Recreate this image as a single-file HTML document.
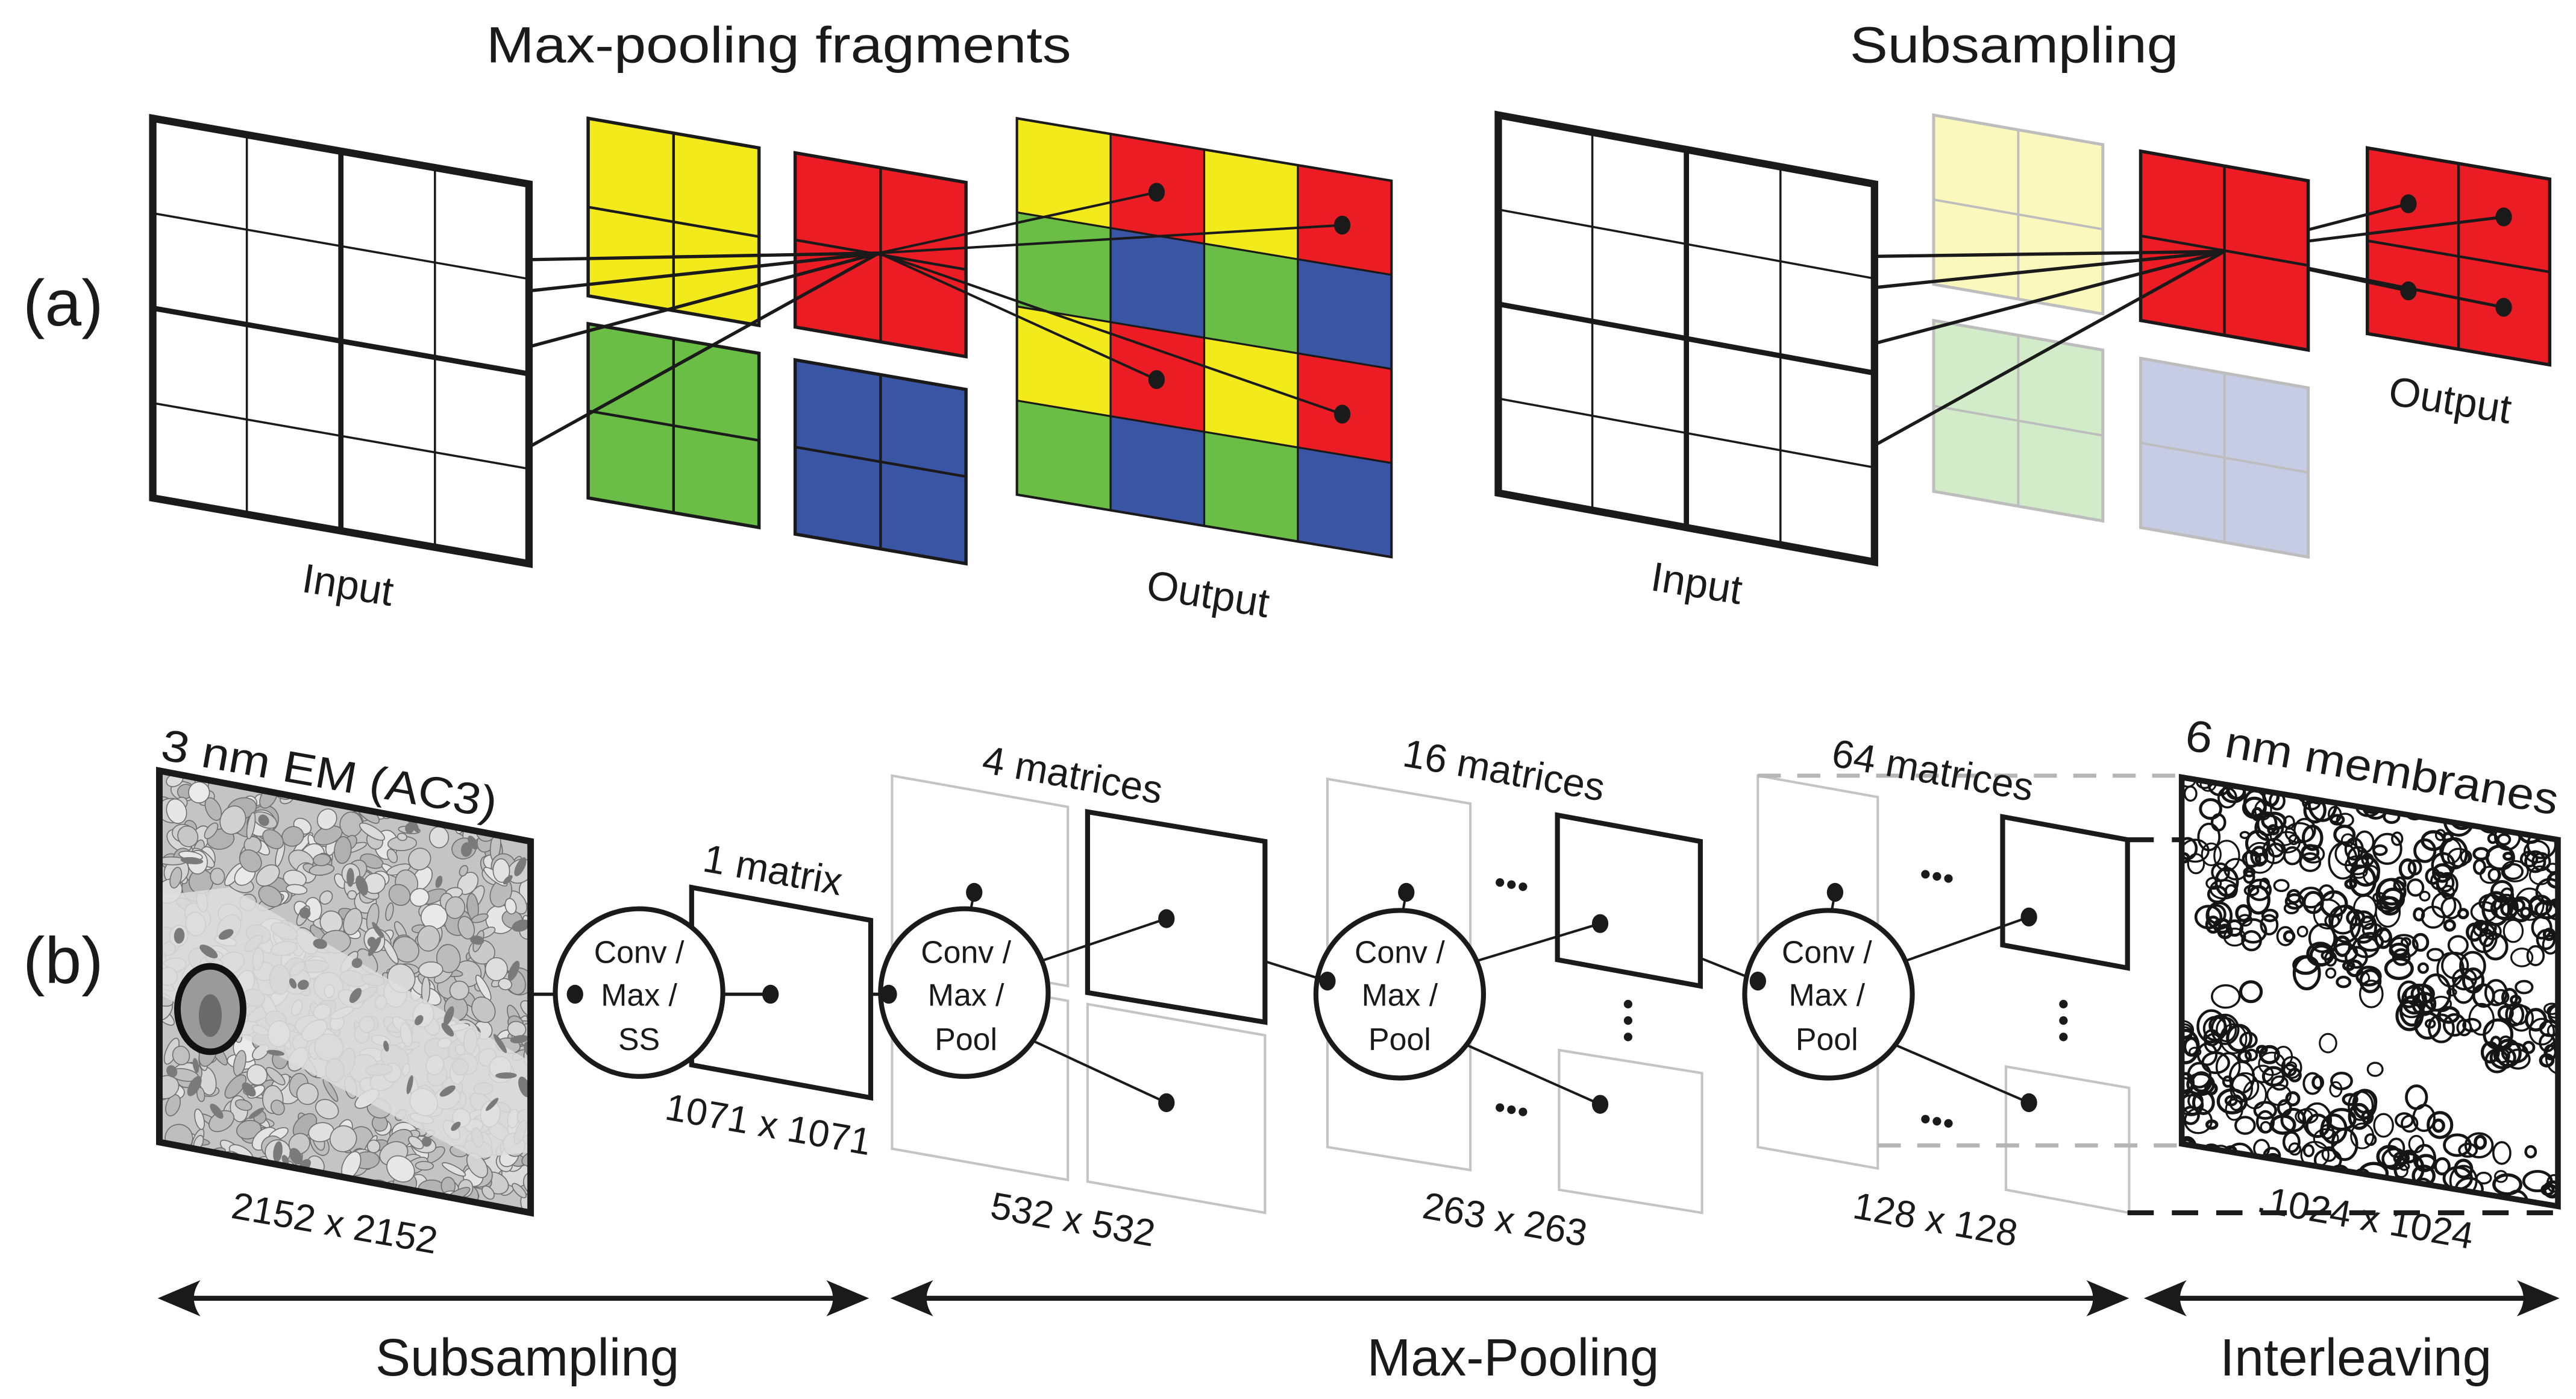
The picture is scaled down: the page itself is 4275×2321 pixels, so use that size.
<!DOCTYPE html>
<html><head><meta charset="utf-8">
<style>
html,body{margin:0;padding:0;background:#fff;}
svg{display:block;}
text{font-family:"Liberation Sans",sans-serif;fill:#1a1a1a;}
</style></head>
<body>
<svg id="s" xmlns="http://www.w3.org/2000/svg" width="4275" height="2321" viewBox="0 0 1568 851.3">
<defs>
<clipPath id="emclip"><polygon points="97,469 323,512 323,738 97,695"/></clipPath>
<clipPath id="memclip"><polygon points="1328,473 1557,511 1557,734 1328,696"/></clipPath>
</defs>
<rect x="0" y="0" width="1568" height="852" fill="#fff"/>
<g id="g"></g>
<g id="txt">
<text x="474" y="38" font-size="31" text-anchor="middle" textLength="356" lengthAdjust="spacingAndGlyphs">Max-pooling fragments</text>
<text x="1226" y="38" font-size="31" text-anchor="middle" textLength="200" lengthAdjust="spacingAndGlyphs">Subsampling</text>
<text x="14" y="198" font-size="40">(a)</text>
<text x="14" y="598" font-size="40">(b)</text>
<text x="183" y="360" font-size="25" transform="rotate(9 183 360)">Input</text>
<text x="697" y="364" font-size="25" transform="rotate(9 697 364)">Output</text>
<text x="1004" y="359" font-size="25" transform="rotate(9 1004 359)">Input</text>
<text x="1453" y="246" font-size="25" transform="rotate(9 1453 246)">Output</text>

<text x="97" y="462" font-size="27" transform="rotate(10 97 462)" textLength="207" lengthAdjust="spacingAndGlyphs">3 nm EM (AC3)</text>
<text x="427" y="530" font-size="24" transform="rotate(10 427 530)">1 matrix</text>
<text x="597" y="470" font-size="24" transform="rotate(10 597 470)">4 matrices</text>
<text x="853" y="466" font-size="24" transform="rotate(10 853 466)">16 matrices</text>
<text x="1114" y="466" font-size="24" transform="rotate(10 1114 466)">64 matrices</text>
<text x="1329" y="456" font-size="27" transform="rotate(10 1329 456)" textLength="230" lengthAdjust="spacingAndGlyphs">6 nm membranes</text>

<text x="404" y="681" font-size="23" transform="rotate(10 404 681)">1071 x 1071</text>
<text x="140" y="741" font-size="23" transform="rotate(10 140 741)">2152 x 2152</text>
<text x="602" y="741" font-size="23" transform="rotate(10 602 741)">532 x 532</text>
<text x="865" y="741" font-size="23" transform="rotate(10 865 741)">263 x 263</text>
<text x="1127" y="741" font-size="23" transform="rotate(10 1127 741)">128 x 128</text>
<text x="1373" y="737" font-size="23" transform="rotate(10 1373 737)">.1024 x 1024</text>

<g font-size="19" text-anchor="middle">
<text x="389" y="586">Conv /</text><text x="389" y="612">Max /</text><text x="389" y="639">SS</text>
<text x="588" y="586">Conv /</text><text x="588" y="612">Max /</text><text x="588" y="639">Pool</text>
<text x="852" y="586">Conv /</text><text x="852" y="612">Max /</text><text x="852" y="639">Pool</text>
<text x="1112" y="586">Conv /</text><text x="1112" y="612">Max /</text><text x="1112" y="639">Pool</text>
</g>
<text x="321" y="837" font-size="32" text-anchor="middle">Subsampling</text>
<text x="921" y="837" font-size="32" text-anchor="middle">Max-Pooling</text>
<text x="1434" y="837" font-size="32" text-anchor="middle">Interleaving</text>
</g>
</svg>
<script>
(function(){
var NS="http://www.w3.org/2000/svg";
var G=document.getElementById("g");
var TXT=document.getElementById("txt");
function el(name,attrs,parent){var e=document.createElementNS(NS,name);for(var k in attrs)e.setAttribute(k,attrs[k]);(parent||G).appendChild(e);return e;}
function P(x0,y0,w,h,s,u,v){return [x0+u*w,y0+v*h+u*s];}
function poly(pts,attrs,parent){attrs.points=pts.map(function(p){return p[0].toFixed(2)+","+p[1].toFixed(2);}).join(" ");return el("polygon",attrs,parent);}
function line(a,b,st,sw,extra,parent){var at={x1:a[0],y1:a[1],x2:b[0],y2:b[1],stroke:st,"stroke-width":sw};if(extra)for(var k in extra)at[k]=extra[k];return el("line",at,parent);}
function grid(o){
  var n=o.n,x0=o.x,y0=o.y,w=o.w,h=o.h,s=o.s;
  if(o.fills){for(var r=0;r<n;r++)for(var c=0;c<n;c++){
    var f=o.fills[r][c];
    poly([P(x0,y0,w,h,s,c/n,r/n),P(x0,y0,w,h,s,(c+1)/n,r/n),P(x0,y0,w,h,s,(c+1)/n,(r+1)/n),P(x0,y0,w,h,s,c/n,(r+1)/n)],{fill:f,stroke:"none"});
  }} else {
    poly([P(x0,y0,w,h,s,0,0),P(x0,y0,w,h,s,1,0),P(x0,y0,w,h,s,1,1),P(x0,y0,w,h,s,0,1)],{fill:o.bg||"#fff",stroke:"none"});
  }
  for(var i=1;i<n;i++){
    var t=i/n, sw=(o.thick&&i==n/2)?o.tsw:o.isw;
    line(P(x0,y0,w,h,s,t,0),P(x0,y0,w,h,s,t,1),o.stroke,sw);
    line(P(x0,y0,w,h,s,0,t),P(x0,y0,w,h,s,1,t),o.stroke,sw);
  }
  poly([P(x0,y0,w,h,s,0,0),P(x0,y0,w,h,s,1,0),P(x0,y0,w,h,s,1,1),P(x0,y0,w,h,s,0,1)],{fill:"none",stroke:o.stroke,"stroke-width":o.osw,"stroke-linejoin":"miter"});
}
function dot(x,y,r){el("ellipse",{cx:x,cy:y,rx:r||5,ry:(r||5)*1.15,fill:"#1a1a1a"});}
var K="#1a1a1a";
var Y="#f2ea1a",R="#ec1c24",Gr="#6abd45",B="#3a55a4";
grid({x:93,y:72,w:229,h:231,s:40,n:4,stroke:K,osw:4.5,isw:1.3,tsw:3.2,thick:true});
grid({x:358,y:72,w:104,h:108,s:18,n:2,fills:[[Y,Y],[Y,Y]],stroke:K,osw:2,isw:1.6});
grid({x:358,y:197,w:104,h:106,s:18,n:2,fills:[[Gr,Gr],[Gr,Gr]],stroke:K,osw:2,isw:1.6});
grid({x:484,y:93,w:104,h:106,s:18,n:2,fills:[[R,R],[R,R]],stroke:K,osw:2,isw:1.6});
grid({x:484,y:219,w:104,h:106,s:18,n:2,fills:[[B,B],[B,B]],stroke:K,osw:2,isw:1.6});
grid({x:619,y:72,w:228,h:229,s:38,n:4,fills:[[Y,R,Y,R],[Gr,B,Gr,B],[Y,R,Y,R],[Gr,B,Gr,B]],stroke:K,osw:1.5,isw:1.2});
var rc=[535,154];
[[322,158],[322,177],[322,211],[322,272]].forEach(function(p){line(p,rc,K,2);});
[[704,117],[817,137],[704,231],[817,252]].forEach(function(p){line(rc,p,K,1.5);dot(p[0],p[1],5);});
grid({x:912,y:70,w:229,h:230,s:42,n:4,stroke:K,osw:4.5,isw:1.3,tsw:3.2,thick:true});
grid({x:1177,y:70,w:103,h:103,s:18,n:2,fills:[["#faf8bd","#faf8bd"],["#faf8bd","#faf8bd"]],stroke:"#bdbdbd",osw:1.8,isw:1.4});
grid({x:1177,y:195,w:103,h:104,s:18,n:2,fills:[["#d2ebc8","#d2ebc8"],["#d2ebc8","#d2ebc8"]],stroke:"#bdbdbd",osw:1.8,isw:1.4});
grid({x:1303,y:218,w:102,h:103,s:18,n:2,fills:[["#c5cce3","#c5cce3"],["#c5cce3","#c5cce3"]],stroke:"#bdbdbd",osw:1.8,isw:1.4});
grid({x:1303,y:92,w:102,h:103,s:18,n:2,fills:[[R,R],[R,R]],stroke:K,osw:2,isw:1.6});
grid({x:1441,y:90,w:111,h:113,s:19,n:2,fills:[[R,R],[R,R]],stroke:K,osw:2,isw:1.6});
var rc2=[1354,153];
[[1141,156],[1141,175],[1141,209],[1141,271]].forEach(function(p){line(p,rc2,K,2);});
[[1466,124],[1524,132],[1466,177],[1524,187]].forEach(function(p){
  var t=(1405-rc2[0])/(p[0]-rc2[0]);var st=[1405,rc2[1]+t*(p[1]-rc2[1])];
  line(st,p,K,1.8);dot(p[0],p[1],5);});

var seed=12345;function rnd(){seed=(seed*16807)%2147483647;return (seed-1)/2147483646;}
// EM image
var em=el("g",{"clip-path":"url(#emclip)"});
el("rect",{x:95,y:465,width:232,height:276,fill:"#c4c4c4"},em);
for(var i=0;i<700;i++){
  var cx=97+rnd()*228,cy=469+rnd()*270,rx=2+rnd()*7,ry=2+rnd()*7;
  var shade=Math.floor(175+rnd()*60);
  el("ellipse",{cx:cx,cy:cy,rx:rx,ry:ry,fill:"rgb("+shade+","+shade+","+shade+")",stroke:"#707070","stroke-width":0.6,transform:"rotate("+(rnd()*180)+" "+cx+" "+cy+")"},em);
}
el("polygon",{points:"97,545 140,540 330,650 330,700 290,705 97,605",fill:"#dedede",opacity:0.85},em);
for(var i=0;i<70;i++){
  var cx=97+rnd()*228,cy=469+rnd()*270;
  el("ellipse",{cx:cx,cy:cy,rx:1.5+rnd()*2,ry:3+rnd()*4,fill:"#7a7a7a",transform:"rotate("+(rnd()*180)+" "+cx+" "+cy+")"},em);
}
el("ellipse",{cx:128,cy:614,rx:20,ry:26,fill:"#9a9a9a",stroke:"#111","stroke-width":4},em);
el("ellipse",{cx:128,cy:618,rx:7,ry:13,fill:"#6a6a6a"},em);
poly([[97,469],[323,512],[323,738],[97,695]],{fill:"none",stroke:K,"stroke-width":4});

poly([[421,540],[530,560],[530,668],[421,648]],{fill:"#fff",stroke:K,"stroke-width":3});
var GS="#c4c4c4";
poly([[543,472],[650,491],[650,600],[543,581]],{fill:"#fff",stroke:GS,"stroke-width":1.5});
poly([[543,590],[650,609],[650,718],[543,699]],{fill:"#fff",stroke:GS,"stroke-width":1.5});
poly([[662,494],[770,512],[770,622],[662,604]],{fill:"#fff",stroke:K,"stroke-width":3});
poly([[662,611],[770,630],[770,738],[662,719]],{fill:"#fff",stroke:GS,"stroke-width":1.5});
poly([[808,474],[895,489],[895,598],[808,583]],{fill:"#fff",stroke:GS,"stroke-width":1.5});
poly([[808,589],[895,603],[895,712],[808,698]],{fill:"#fff",stroke:GS,"stroke-width":1.5});
poly([[948,496],[1035,512],[1035,600],[948,584]],{fill:"#fff",stroke:K,"stroke-width":3});
poly([[949,639],[1036,653],[1036,738],[949,724]],{fill:"#fff",stroke:GS,"stroke-width":1.5});
poly([[1070,472],[1143,485],[1143,594],[1070,581]],{fill:"#fff",stroke:GS,"stroke-width":1.5});
poly([[1070,587],[1143,600],[1143,711],[1070,698]],{fill:"#fff",stroke:GS,"stroke-width":1.5});
poly([[1219,497],[1295,511],[1295,589],[1219,575]],{fill:"#fff",stroke:K,"stroke-width":3});
poly([[1221,649],[1296,662],[1296,738],[1221,724]],{fill:"#fff",stroke:GS,"stroke-width":1.5});
line([1070,472],[1328,472],"#b5b5b5",2.5,{"stroke-dasharray":"14,10"});
line([1143,697],[1328,697],"#b5b5b5",2.5,{"stroke-dasharray":"14,10"});
line([1295,511],[1557,511],K,3,{"stroke-dasharray":"16,11"});
line([1295,738],[1557,738],K,3,{"stroke-dasharray":"16,11"});

// membranes
var mm=el("g",{"clip-path":"url(#memclip)"});
el("rect",{x:1326,y:470,width:235,height:270,fill:"#fff"},mm);
for(var i=0;i<700;i++){
  var cx=1328+rnd()*230,cy=473+rnd()*265,r=2.5+rnd()*6;
  var d=(cy-473)-(cx-1328)*0.45;
  if(d>85&&d<140&&rnd()<0.95) continue;
  if(d>20&&d<35&&rnd()<0.8) continue;
  el("ellipse",{cx:cx,cy:cy,rx:r,ry:r*(0.7+rnd()*0.6),fill:"none",stroke:"#151515","stroke-width":1.1+rnd()*0.9},mm);
}
poly([[1328,473],[1557,511],[1557,734],[1328,696]],{fill:"none",stroke:K,"stroke-width":3.5});

function circ(cx,cy){el("ellipse",{cx:cx,cy:cy,rx:51,ry:51,fill:"#fff",stroke:K,"stroke-width":3});}
line([323,605],[350,605],K,2);
circ(389,604);
dot(350,605,5);
line([440,605],[469,605],K,2);dot(469,605,5);
line([530,605],[541,605],K,2);
circ(587,604);
dot(541,605,5);
line([593,543],[591,553],K,1.5);dot(593,543,5);
line([633,585],[710,559],K,1.5);dot(710,559,5);
line([628,633],[710,671],K,1.5);dot(710,671,5);
line([770,585],[808,597],K,1.5);
circ(852,605);
dot(808,597,5);
line([856,543],[854,554],K,1.5);dot(856,543,5);
line([898,585],[974,562],K,1.5);dot(974,562,5);
line([893,636],[974,672],K,1.5);dot(974,672,5);
line([1035,583],[1070,597],K,1.5);
circ(1113,605);
dot(1070,597,5);
line([1117,543],[1115,554],K,1.5);dot(1117,543,5);
line([1159,585],[1235,558],K,1.5);dot(1235,558,5);
line([1154,636],[1235,671],K,1.5);dot(1235,671,5);
function dots3(x,y,vert){for(var i=0;i<3;i++){var px=vert?x:x+i*7,py=vert?y+i*10:y+i*1.3;el("circle",{cx:px,cy:py,r:2.6,fill:K});}}
dots3(913,537);dots3(913,674);dots3(991,611,true);
dots3(1172,532);dots3(1172,681);dots3(1256,611,true);

function arrow(x1,x2,y){
  line([x1+10,y],[x2-10,y],K,3);
  el("path",{d:"M"+x1+","+y+" L"+(x1+26)+","+(y-11)+" Q"+(x1+18)+","+y+" "+(x1+26)+","+(y+11)+" Z",fill:K});
  el("path",{d:"M"+x2+","+y+" L"+(x2-26)+","+(y-11)+" Q"+(x2-18)+","+y+" "+(x2-26)+","+(y+11)+" Z",fill:K});
}
arrow(96,529,790);arrow(542,1296,790);arrow(1305,1558,790);
G.parentNode.appendChild(TXT);
})();
</script>
</body></html>
